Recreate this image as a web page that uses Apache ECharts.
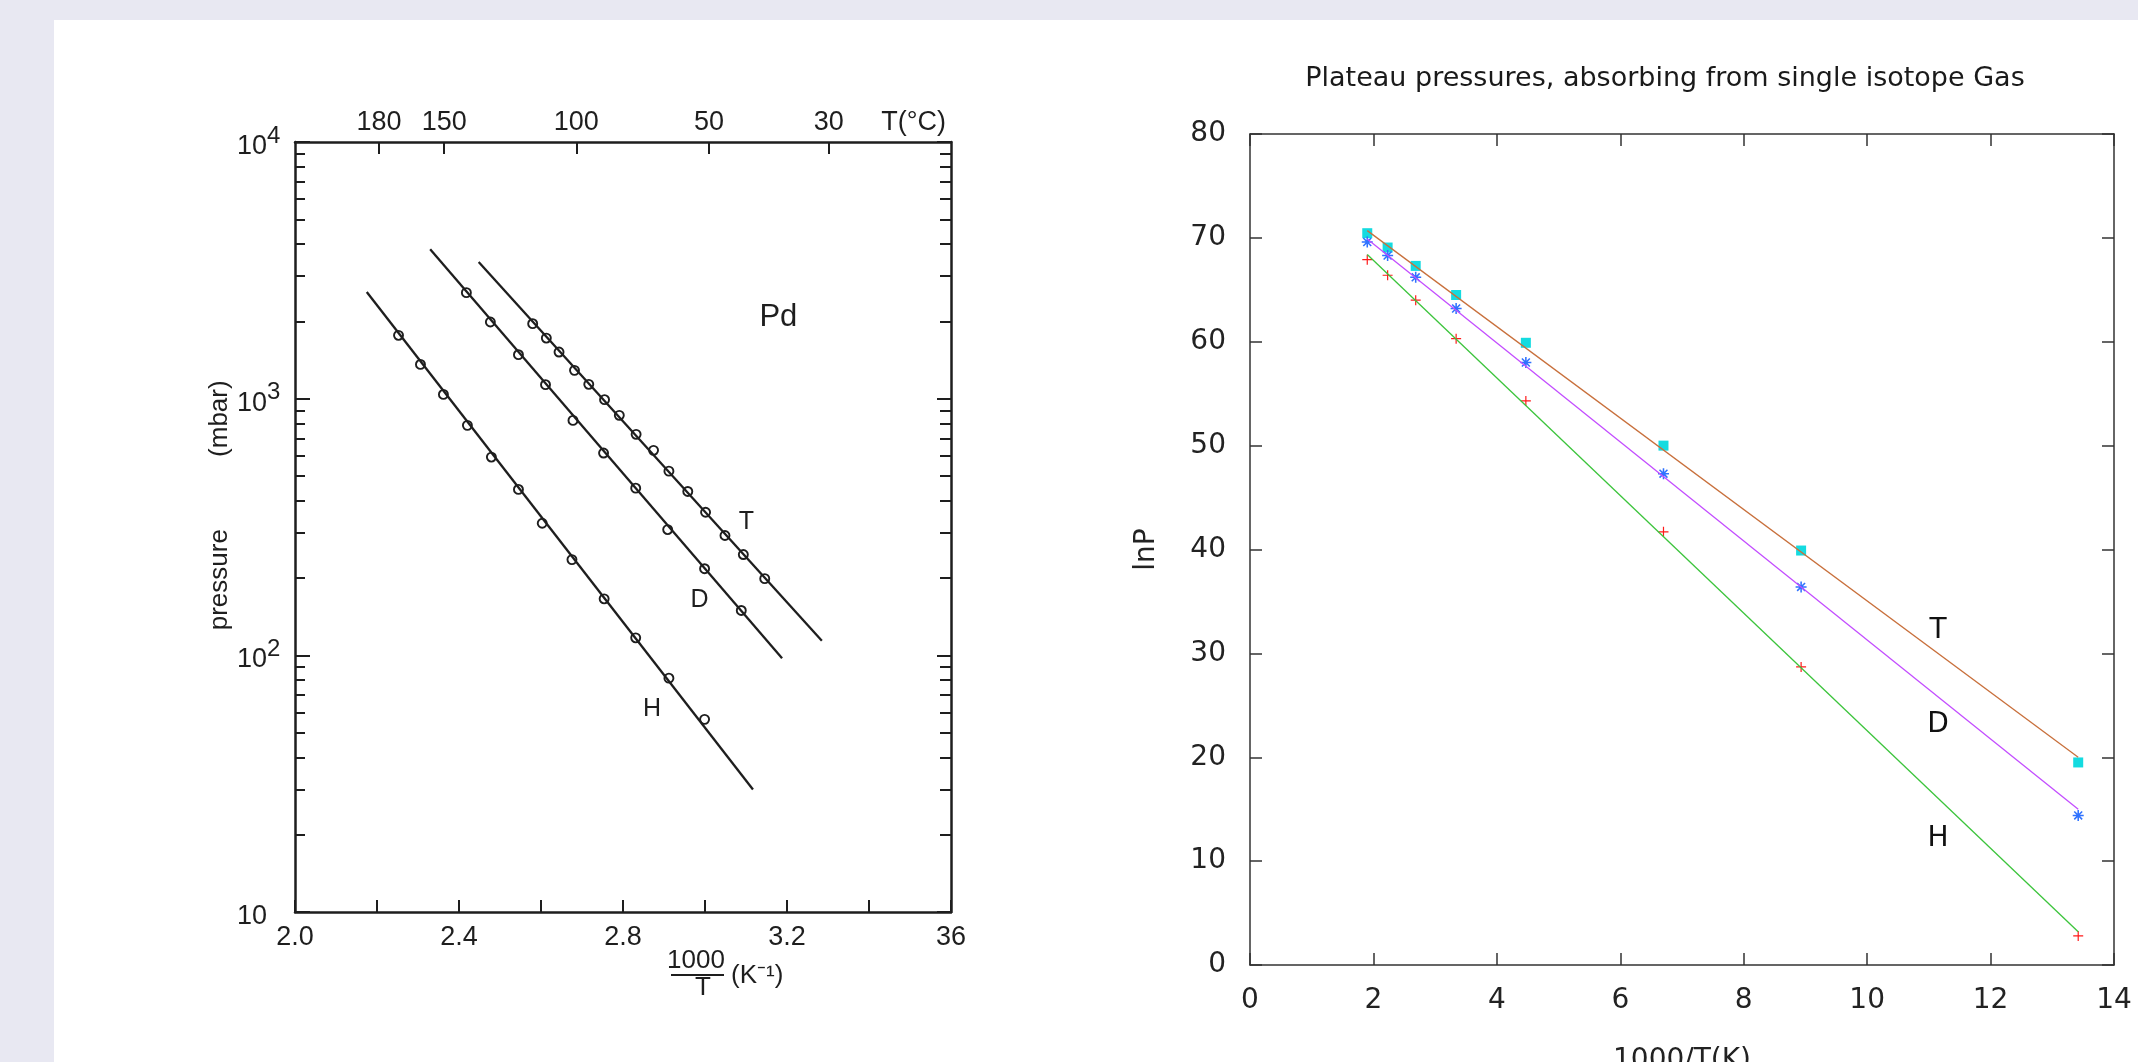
<!DOCTYPE html>
<html><head><meta charset="utf-8">
<script src="https://cdn.jsdelivr.net/npm/echarts@6/dist/echarts.min.js"></script>
<style>
html,body{margin:0;padding:0;background:#e8e8f2;overflow:hidden;width:2138px;height:1062px;}
#panel{position:absolute;left:54px;top:20px;right:0;bottom:0;background:#fff;}
#chart{position:absolute;left:0;top:0;width:2138px;height:1062px;}
</style></head><body>
<div id="panel"></div><div id="chart"></div>
<script>
// ===== Left panel: Pd, pressure (mbar) vs 1000/T =====
const leftXTickValues = [2.0, 2.4, 2.8, 3.2, 3.6];
const leftXTickLabels = ['2.0', '2.4', '2.8', '3.2', '36'];
const topTickValues = [2.205, 2.364, 2.686, 3.010, 3.302];
const topTickLabels = ['180', '150', '100', '50', '30'];
const topUnitValue = 3.509;
const topUnitLabel = 'T(°C)';

const hX = [2.2525, 2.306, 2.362, 2.4205, 2.479, 2.545, 2.603, 2.6755, 2.754, 2.831, 2.912, 2.999];
const hP = [1765, 1360, 1039, 787, 592, 443, 327, 236, 166, 117, 81.5, 56.3];
const dX = [2.418, 2.4765, 2.545, 2.611, 2.678, 2.7526, 2.831, 2.909, 2.999, 3.0885];
const dP = [2589, 1989, 1484, 1134, 823, 614, 448, 309, 217.5, 149.6];
const tX = [2.5797, 2.613, 2.644, 2.6817, 2.7165, 2.755, 2.791, 2.832, 2.8745, 2.912, 2.958, 3.0014, 3.0487, 3.0935, 3.1457];
const tP = [1960, 1722, 1519, 1289, 1137, 991, 861, 726, 629, 522, 435, 361, 293, 247, 199];

const hLineX = [2.175, 3.117];
const hLineP = [2604, 30.0];
const dLineX = [2.3297, 3.188];
const dLineP = [3818, 97.5];
const tLineX = [2.448, 3.285];
const tLineP = [3407, 114];

const leftNotes = ['Pd', 'T', 'D', 'H'];
const leftNotesX = [3.179, 3.101, 2.9865, 2.871];
const leftNotesP = [2080, 330, 164, 62];
const leftNotesSize = [31, 25, 25, 25];

// ===== Right panel: lnP vs 1000/T(K) =====
const rX = [1.90, 2.23, 2.685, 3.34, 4.47, 6.70, 8.93, 13.42];
const rT = [70.45, 69.07, 67.3, 64.5, 59.9, 50.0, 39.9, 19.5];
const rD = [69.6, 68.3, 66.2, 63.2, 58.0, 47.3, 36.4, 14.4];
const rH = [67.9, 66.4, 64.0, 60.3, 54.3, 41.7, 28.7, 2.8];
const rLineX = [1.90, 13.42];
const rTLine = [70.7, 20.0];
const rDLine = [69.9, 15.0];
const rHLine = [68.4, 3.2];
const rightNotes = ['T', 'D', 'H'];
const rightNotesX = [11.15, 11.15, 11.15];
const rightNotesY = [32.2, 23.1, 12.2];

const NARROW = '"Liberation Sans Narrow", "Liberation Sans", sans-serif';
const SANS = '"DejaVu Sans", sans-serif';
const INK = '#1e1e1e';
const GP = '#333';

const zip = (xs, ys) => xs.map((x, i) => [x, ys[i]]);
const nearest = (vals, v) => vals.findIndex(t => Math.abs(t - v) < 1e-6);

const asterisk = 'path://M-0.7,-5L0.7,-5L0.7,5L-0.7,5Z M-5,-0.7L5,-0.7L5,0.7L-5,0.7Z M-3.1,-4.1L4.1,3.1L3.1,4.1L-4.1,-3.1Z M4.1,-3.1L-3.1,4.1L-4.1,3.1L3.1,-4.1Z';
const plus = 'path://M-0.6,-5L0.6,-5L0.6,5L-0.6,5Z M-5,-0.6L5,-0.6L5,0.6L-5,0.6Z';

const leftLine = {lineStyle: {color: INK, width: 2.3}};
const noteLabel = (font, color) => ({
  show: true, position: 'inside', formatter: p => p.name, fontFamily: font, color: color,
  textBorderWidth: 0, textShadowBlur: 0, opacity: 1
});

const option = {
  animation: false,
  title: {
    text: 'Plateau pressures, absorbing from single isotope Gas',
    left: 1660, top: 60, textAlign: 'center',
    textStyle: {fontFamily: SANS, fontSize: 27, fontWeight: 'normal', color: '#1a1a1a'}
  },
  grid: [
    {left: 295, top: 142, width: 656, height: 770, outerBoundsMode: 'none', containLabel: false},
    {left: 1250, top: 134, width: 864, height: 831, outerBoundsMode: 'none', containLabel: false}
  ],
  xAxis: [
    {
      gridIndex: 0, type: 'value', position: 'bottom', min: 2.0, max: 3.6, interval: 0.2,
      axisLine: {onZero: false, lineStyle: {color: INK, width: 2.5}},
      axisTick: {inside: true, length: 12, lineStyle: {color: INK, width: 2}},
      axisLabel: {margin: 12, fontFamily: NARROW, fontSize: 27, color: INK,
        formatter: v => { const i = nearest(leftXTickValues, v); return i >= 0 ? leftXTickLabels[i] : ''; }},
      splitLine: {show: false}
    },
    {
      gridIndex: 0, type: 'value', position: 'top', min: 2.0, max: 3.6,
      axisLine: {onZero: false, lineStyle: {color: INK, width: 2.5}},
      axisTick: {inside: true, length: 12, customValues: topTickValues, lineStyle: {color: INK, width: 2}},
      axisLabel: {margin: 6, fontFamily: NARROW, fontSize: 27, color: INK,
        customValues: topTickValues.concat([topUnitValue]),
        formatter: v => { const i = nearest(topTickValues, v); return i >= 0 ? topTickLabels[i] : (Math.abs(v - topUnitValue) < 1e-6 ? topUnitLabel : ''); }},
      splitLine: {show: false}
    },
    {
      gridIndex: 1, type: 'value', position: 'bottom', min: 0, max: 14, interval: 2,
      name: '1000/T(K)', nameLocation: 'middle', nameGap: 82,
      nameTextStyle: {fontFamily: SANS, fontSize: 28, color: '#222'},
      axisLine: {onZero: false, lineStyle: {color: GP, width: 1.5}},
      axisTick: {inside: true, length: 12, lineStyle: {color: GP, width: 1.5}},
      axisLabel: {margin: 22, fontFamily: SANS, fontSize: 28, color: '#222'},
      splitLine: {show: false}
    },
    {
      gridIndex: 1, type: 'value', position: 'top', min: 0, max: 14, interval: 2,
      axisLine: {onZero: false, lineStyle: {color: GP, width: 1.5}},
      axisTick: {inside: true, length: 12, lineStyle: {color: GP, width: 1.5}},
      axisLabel: {show: false}, splitLine: {show: false}
    }
  ],
  yAxis: [
    {
      gridIndex: 0, type: 'log', logBase: 10, min: 10, max: 10000, position: 'left',
      name: '      pressure' + ' '.repeat(10) + '(mbar)', nameLocation: 'middle', nameGap: 62, nameRotate: 90,
      nameTextStyle: {fontFamily: NARROW, fontSize: 26, color: INK},
      axisLine: {onZero: false, lineStyle: {color: INK, width: 2.5}},
      axisTick: {inside: true, length: 15, lineStyle: {color: INK, width: 2}},
      minorTick: {show: true, splitNumber: 9, length: 10, lineStyle: {color: INK, width: 2}},
      axisLabel: {margin: 58, align: 'left', color: INK,
        formatter: v => { const e = Math.round(Math.log10(v)); return e === 1 ? '{b|10}' : '{b|10}{s|' + e + '}'; },
        rich: {
          b: {fontFamily: NARROW, fontSize: 27, color: INK, lineHeight: 36, verticalAlign: 'bottom'},
          s: {fontFamily: NARROW, fontSize: 24, color: INK, lineHeight: 36, verticalAlign: 'top'}
        }},
      splitLine: {show: false}, minorSplitLine: {show: false}
    },
    {
      gridIndex: 0, type: 'log', logBase: 10, min: 10, max: 10000, position: 'right',
      axisLine: {onZero: false, lineStyle: {color: INK, width: 2.5}},
      axisTick: {inside: true, length: 14, lineStyle: {color: INK, width: 2}},
      minorTick: {show: true, splitNumber: 9, length: 11, lineStyle: {color: INK, width: 2}},
      axisLabel: {show: false}, splitLine: {show: false}
    },
    {
      gridIndex: 1, type: 'value', position: 'left', min: 0, max: 80, interval: 10,
      name: 'lnP', nameLocation: 'middle', nameGap: 89, nameRotate: 90,
      nameTextStyle: {fontFamily: SANS, fontSize: 28, color: '#222'},
      axisLine: {onZero: false, lineStyle: {color: GP, width: 1.5}},
      axisTick: {inside: true, length: 12, lineStyle: {color: GP, width: 1.5}},
      axisLabel: {margin: 24, fontFamily: SANS, fontSize: 28, color: '#222'},
      splitLine: {show: false}
    },
    {
      gridIndex: 1, type: 'value', position: 'right', min: 0, max: 80, interval: 10,
      axisLine: {onZero: false, lineStyle: {color: GP, width: 1.5}},
      axisTick: {inside: true, length: 12, lineStyle: {color: GP, width: 1.5}},
      axisLabel: {show: false}, splitLine: {show: false}
    }
  ],
  series: [
    // left fit lines
    {type: 'line', xAxisIndex: 0, yAxisIndex: 0, data: zip(hLineX, hLineP), showSymbol: false, ...leftLine},
    {type: 'line', xAxisIndex: 0, yAxisIndex: 0, data: zip(dLineX, dLineP), showSymbol: false, ...leftLine},
    {type: 'line', xAxisIndex: 0, yAxisIndex: 0, data: zip(tLineX, tLineP), showSymbol: false, ...leftLine},
    // left measured points (open circles)
    ...[[hX, hP], [dX, dP], [tX, tP]].map(([xs, ps]) => ({
      type: 'scatter', xAxisIndex: 0, yAxisIndex: 0, data: zip(xs, ps),
      symbol: 'circle', symbolSize: 9,
      itemStyle: {color: '#fff', borderColor: INK, borderWidth: 1.9, opacity: 1}
    })),
    // left annotations
    {
      type: 'scatter', xAxisIndex: 0, yAxisIndex: 0, symbolSize: 0, silent: true,
      data: leftNotes.map((n, i) => ({name: n, value: [leftNotesX[i], leftNotesP[i]],
        label: {fontSize: leftNotesSize[i]}})),
      label: noteLabel(NARROW, INK),
      itemStyle: {color: 'transparent', opacity: 1}
    },
    // right fit lines
    {type: 'line', xAxisIndex: 2, yAxisIndex: 2, data: zip(rLineX, rTLine), showSymbol: false, lineStyle: {color: '#c8703c', width: 1.3}},
    {type: 'line', xAxisIndex: 2, yAxisIndex: 2, data: zip(rLineX, rDLine), showSymbol: false, lineStyle: {color: '#c34dff', width: 1.3}},
    {type: 'line', xAxisIndex: 2, yAxisIndex: 2, data: zip(rLineX, rHLine), showSymbol: false, lineStyle: {color: '#3cc43c', width: 1.3}},
    // right points
    {type: 'scatter', xAxisIndex: 2, yAxisIndex: 2, data: zip(rX, rT), symbol: 'rect', symbolSize: 10, itemStyle: {color: '#14dbe0', opacity: 1}},
    {type: 'scatter', xAxisIndex: 2, yAxisIndex: 2, data: zip(rX, rD), symbol: asterisk, symbolSize: 11, itemStyle: {color: '#2f72ff', opacity: 1}},
    {type: 'scatter', xAxisIndex: 2, yAxisIndex: 2, data: zip(rX, rH), symbol: plus, symbolSize: 10, itemStyle: {color: '#ff1a1a', opacity: 1}},
    // right annotations
    {
      type: 'scatter', xAxisIndex: 2, yAxisIndex: 2, symbolSize: 0, silent: true,
      data: rightNotes.map((n, i) => ({name: n, value: [rightNotesX[i], rightNotesY[i]]})),
      label: Object.assign(noteLabel(SANS, '#111'), {fontSize: 28}),
      itemStyle: {color: 'transparent', opacity: 1}
    }
  ],
  graphic: [
    {type: 'text', x: 696, y: 961, style: {text: '1000', fontFamily: NARROW, fontSize: 26, fill: INK, align: 'center', verticalAlign: 'middle'}},
    {type: 'line', shape: {x1: 671, y1: 975, x2: 724, y2: 975}, style: {stroke: INK, lineWidth: 2}},
    {type: 'text', x: 703, y: 988, style: {text: 'T', fontFamily: NARROW, fontSize: 26, fill: INK, align: 'center', verticalAlign: 'middle'}},
    {type: 'text', x: 731, y: 976, style: {text: '(K⁻¹)', fontFamily: NARROW, fontSize: 26, fill: INK, align: 'left', verticalAlign: 'middle'}}
  ]
};
const chart = echarts.init(document.getElementById('chart'), null, {renderer: 'canvas'});
chart.setOption(option);
</script>
</body></html>
